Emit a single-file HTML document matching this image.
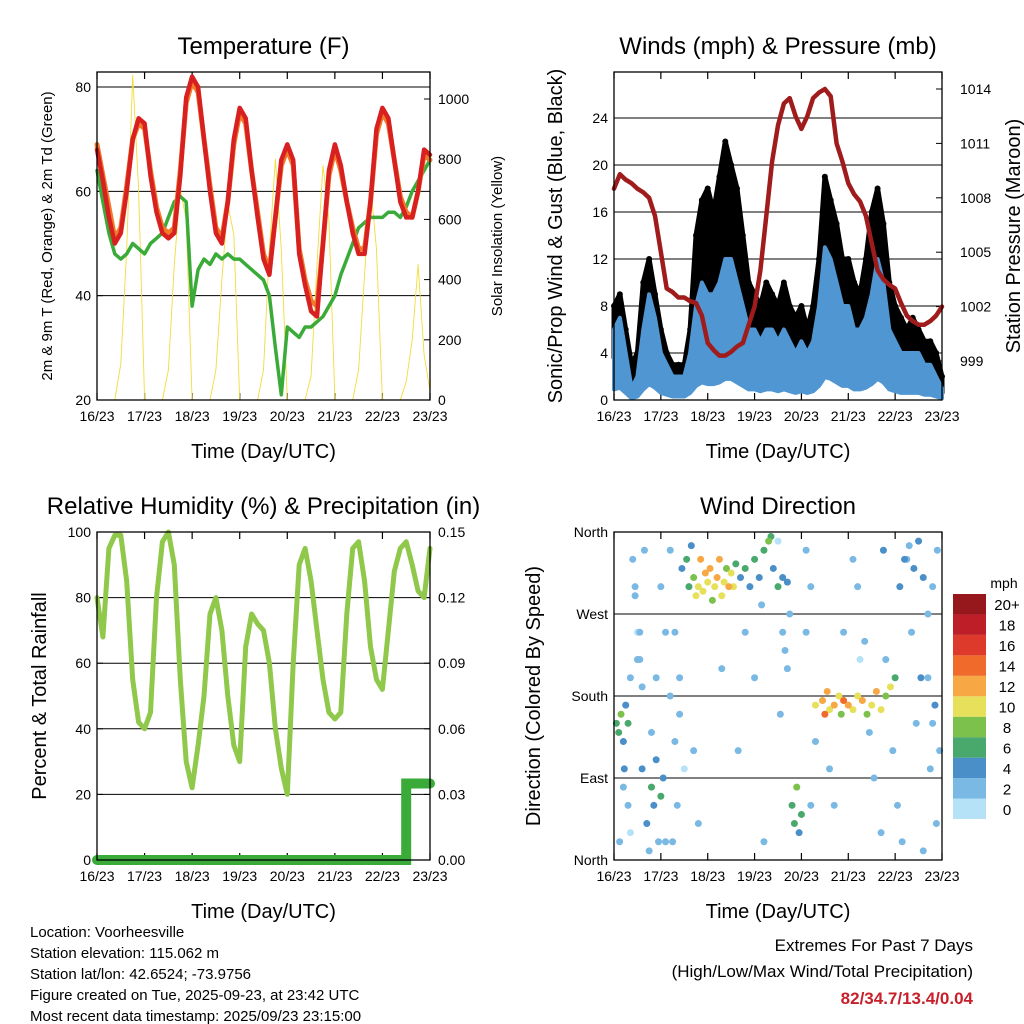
<!DOCTYPE html>
<html><head><meta charset="utf-8"><style>
body{margin:0;background:#fff}
svg{display:block;font-family:"Liberation Sans",sans-serif}
</style></head><body>
<svg id="s" width="1024" height="1024" viewBox="0 0 1024 1024" xmlns="http://www.w3.org/2000/svg"></svg>
<script>
// ===== data (3-hour steps from 16/23 to 23/23) =====
const dayLabels=["16/23","17/23","18/23","19/23","20/23","21/23","22/23","23/23"];
const temp2m=[68,62,55,50,52,60,70,74, 73,63,56,52,51,52,63,78, 82,80,70,60,52,50,58,70, 76,74,64,55,47,44,55,66, 69,66,48,42,37,36,50,64, 69,65,58,52,48,48,58,72, 76,74,66,58,55,55,60,68, 67];
const temp9m=[69,63,57,51,53,61,70,73, 72,64,57,53,52,53,64,77, 81,79,70,61,53,51,58,69, 75,73,64,56,48,45,55,65, 68,65,49,43,39,38,50,63, 68,64,58,53,49,49,58,71, 75,73,66,59,56,55,60,67, 66];
const dewpoint=[64,58,52,48,47,48,50,49, 48,50,51,52,55,58,59,58, 38,45,47,46,48,47,48,47, 47,46,45,44,43,40,30,21, 34,33,32,34,34,35,36,38, 40,44,47,50,53,54,55,55, 55,56,56,55,57,60,62,64, 66];
const solar=[0,0,0,0,120,500,1080,700, 0,0,0,0,100,450,700,600, 0,0,0,0,100,400,650,550, 0,0,0,0,100,500,800,500, 0,0,0,0,80,450,780,600, 0,0,0,0,100,420,720,500, 0,0,0,0,60,200,450,150, 30];
const gust=[8,9,6,3,4,10,12,9, 6,4,3,3,3,6,14,17, 18,16,19,22,20,18,14,10, 9,8,10,9,8,10,8,7, 8,6,8,12,19,17,15,12, 12,10,9,12,16,18,15,10, 8,7,6,7,6,5,5,4, 2];
const sonic=[6,7,4,1,2,6,9,7, 4,3,2,2,2,4,8,10, 9,9,10,12,12,10,8,6, 6,5,6,6,5,6,5,4, 5,4,5,8,13,12,10,8, 8,6,6,7,9,12,10,6, 5,4,4,4,4,3,3,2, 1];
const pressure=[1008.5,1009.3,1009,1008.8,1008.5,1008.3,1008,1007, 1005,1003,1002.8,1002.5,1002.5,1002.3,1002.2,1001.5, 1000,999.6,999.3,999.3,999.5,999.8,1000,1001, 1002,1004,1007,1010,1012,1013.2,1013.5,1012.5, 1011.8,1012.5,1013.5,1013.8,1014,1013.6,1011,1010, 1008.8,1008.2,1007.8,1007,1005.5,1004,1003.5,1003.2, 1003,1002.2,1001.5,1001.2,1001,1001,1001.2,1001.5, 1002];
const rh=[80,68,95,99,99,85,55,42, 40,45,80,97,100,90,55,30, 22,35,50,75,80,70,50,35, 30,65,75,72,70,60,40,28, 20,60,90,95,85,70,55,45, 43,45,75,95,97,85,65,55, 52,70,88,95,97,90,82,80, 95];
const precip=[0,0,0,0,0,0,0,0, 0,0,0,0,0,0,0,0, 0,0,0,0,0,0,0,0, 0,0,0,0,0,0,0,0, 0,0,0,0,0,0,0,0, 0,0,0,0,0,0,0,0, 0,0,0,0,0.035,0.035,0.035,0.035, 0.035];
// wind direction points: time (days), direction (deg), speed (mph)
const wdTime=[0.05,0.1,0.15,0.2,0.25,0.3,0.35,0.45,0.55,0.6,0.7,0.8,0.85,0.9,0.95,1.0,1.05,1.2,1.3,1.45,1.55,1.6,1.65,1.7,1.75,1.8,1.85,1.9,1.95,2.0,2.05,2.1,2.15,2.2,2.25,2.3,2.35,2.4,2.45,2.5,2.55,2.6,2.7,2.8,2.9,3.0,3.1,3.2,3.3,3.35,3.4,3.5,3.6,3.7,3.8,3.85,3.9,3.95,4.0,4.1,4.3,4.45,4.5,4.55,4.6,4.7,4.8,4.85,4.9,5.0,5.1,5.2,5.3,5.4,5.5,5.6,5.7,5.8,5.9,6.0,6.1,6.2,6.3,6.4,6.5,6.6,6.7,6.8,6.9,0.5,1.1,1.4,2.65,3.15,4.2,5.25,6.25,6.75,
 0.4,0.45,0.5,0.55,0.6,0.65,0.3,0.35,0.75,0.8,0.9,1.0,1.1,1.2,1.25,1.3,1.35,1.4,1.5,3.6,3.65,3.7,3.75,3.55,3.5,4.1,4.2,4.3,4.6,4.7,4.9,5.1,5.2,5.35,5.45,5.55,5.7,5.75,5.8,5.95,6.05,6.15,6.35,6.45,6.55,6.7,6.85,6.95,6.88,6.8,6.6,0.2,0.22,0.12,2.3,2.8,3.0,3.2,1.7,1.8];
const wdDir=[150,140,160,130,170,150,200,300,250,100,40,80,60,110,20,70,90,180,250,320,330,300,345,310,290,300,330,295,315,305,320,285,300,310,330,290,305,320,300,315,300,325,310,320,300,330,310,340,350,355,320,300,310,305,60,40,80,30,50,250,170,175,160,185,165,170,180,160,175,170,165,180,175,160,170,185,165,180,190,200,300,330,345,320,350,310,200,150,340,220,20,160,120,280,60,220,330,100,
 330,290,250,220,190,340,60,30,10,140,200,300,250,340,20,130,60,200,100,250,230,210,270,160,350,340,300,130,100,60,250,330,300,240,140,90,30,340,220,120,60,20,250,150,200,270,170,120,40,300,10,80,100,20,210,250,200,20,120,40];
const wdSpeed=[6,5,7,4,3,5,2,1,1,3,4,5,4,3,2,5,4,1,1,3,5,6,4,7,10,9,11,10,12,9,11,8,10,12,11,9,10,8,11,10,9,6,4,5,4,5,3,6,7,6,4,5,4,3,6,5,7,4,5,1,10,12,13,11,9,12,10,8,13,11,9,10,12,8,10,11,9,7,10,5,3,4,2,4,3,4,2,1,2,1,1,1,1,1,1,0,1,1,
 1,1,0,1,2,1,1,0,1,2,1,2,1,2,1,1,2,1,0,1,2,1,2,1,0,2,1,1,1,1,1,1,2,1,2,1,2,3,1,1,2,1,2,1,3,2,4,2,1,1,2,2,4,2,1,1,2,1,1,2];
const speedColors=["#b5e2f6","#7ab9e3","#4a8fc8","#49a86c","#7cc14c","#e6e05a","#f7a743","#f06a2b","#de3a2c","#be1e27","#97181c"];
const cbLabels=["0","2","4","6","8","10","12","14","16","18","20+"];

const NS="http://www.w3.org/2000/svg";
const S=document.getElementById("s");
function mk(tag,at,parent){const e=document.createElementNS(NS,tag);for(const k in at)e.setAttribute(k,at[k]);(parent||S).appendChild(e);return e;}
function txt(x,y,s,size,anchor,extra){const e=mk("text",Object.assign({x:x,y:y,"font-size":size,"text-anchor":anchor||"middle",fill:"#000"},extra||{}));e.textContent=s;return e;}
function tIdx(i){return i*0.125;}

function panel(L,R,T,B,name,title,xtitle){
  const g=mk("g",{});
  
  
  const t=txt((L+R)/2,T-18,title,24,"middle");
  
  
  const xt=txt((L+R)/2,B+58,xtitle,20,"middle");
  
  
  dayLabels.forEach((d,i)=>{
    const x=L+i/7*(R-L);
    mk("line",{x1:x,x2:x,y1:B,y2:B-7,stroke:"#000","stroke-width":1.2});
    mk("line",{x1:x,x2:x,y1:T,y2:T+7,stroke:"#000","stroke-width":1.2});
    const l=txt(x,B+21,d,14,"middle");
    
    
  });
  return g;
}
function frame(L,R,T,B){mk("rect",{x:L,y:T,width:R-L,height:B-T,fill:"none",stroke:"#000","stroke-width":1.3});}
function grid(L,R,y){mk("line",{x1:L,x2:R,y1:y,y2:y,stroke:"#000","stroke-width":1});}
function leftTick(L,y,s){mk("line",{x1:L,x2:L+6,y1:y,y2:y,stroke:"#000"});const e=txt(L-6,y+5,s,14,"end");}
function rightTick(R,y,s,off){mk("line",{x1:R,x2:R-6,y1:y,y2:y,stroke:"#000"});const e=txt(R+(off||8),y+5,s,14,"start");}
function vtitle(x,y,s,size){const e=txt(x,y,s,size,"middle",{transform:`rotate(-90 ${x} ${y})`});return e;}
function poly(arr,xf,yf,color,w,name){
  const p=arr.map((v,i)=>xf(tIdx(i)).toFixed(1)+","+yf(v).toFixed(1)).join(" ");
  const e=mk("polyline",{points:p,fill:"none",stroke:color,"stroke-width":w,"stroke-linejoin":"round","stroke-linecap":"round"});
  
  
  return e;
}

// ===== Panel 1: Temperature =====
(function(){
  const L=97,R=430,T=72,B=400;
  panel(L,R,T,B,"temperature-panel","Temperature (F)","Time (Day/UTC)");
  const xf=t=>L+t/7*(R-L), yf=v=>B-(v-20)/60*(B-87), ys=v=>B-v/1000*(B-99);
  [40,60,80].forEach(v=>grid(L,R,yf(v)));
  [20,40,60,80].forEach(v=>leftTick(L,yf(v),v));
  [0,200,400,600,800,1000].forEach(v=>rightTick(R,ys(v),v));
  poly(solar,xf,ys,"#f2dc3c",0.9,"solar-line");
  poly(dewpoint,xf,yf,"#3aab38",3.5,"dewpoint-line");
  poly(temp9m,xf,yf,"#f07a2a",5,"temp-9m-line");
  poly(temp2m,xf,yf,"#d92020",4.5,"temp-2m-line");
  frame(L,R,T,B);
  vtitle(52,236,"2m & 9m T (Red, Orange) & 2m Td (Green)",15);
  vtitle(502,236,"Solar Insolation (Yellow)",15);
})();

// ===== Panel 2: Winds & Pressure =====
(function(){
  const L=614,R=942,T=72,B=400;
  panel(L,R,T,B,"winds-panel","Winds (mph) & Pressure (mb)","Time (Day/UTC)");
  const xf=t=>L+t/7*(R-L), yf=v=>B-v/24*(B-118), yp=v=>361-(v-999)/15*(361-89);
  [4,8,12,16,20,24].forEach(v=>grid(L,R,yf(v)));
  [0,4,8,12,16,20,24].forEach(v=>leftTick(L,yf(v),v));
  [999,1002,1005,1008,1011,1014].forEach(v=>rightTick(R,yp(v),v,18));
  const top=gust.map((v,i)=>xf(tIdx(i)).toFixed(1)+","+yf(v).toFixed(1));
  const bot=sonic.map((v,i)=>xf(tIdx(i)).toFixed(1)+","+yf(v*0.6).toFixed(1)).reverse();
  const gb=mk("polygon",{points:top.concat(bot).join(" "),fill:"#000",stroke:"#000","stroke-width":5,"stroke-linejoin":"round"});
  
  
  gust.forEach((v,i)=>{const c=mk("circle",{cx:xf(tIdx(i)),cy:yf(v),r:3,fill:"#000"});
    
    });
  const st=sonic.map((v,i)=>xf(tIdx(i)).toFixed(1)+","+yf(v).toFixed(1));
  const sb=sonic.map((v,i)=>xf(tIdx(i)).toFixed(1)+","+yf(v*0.15).toFixed(1)).reverse();
  const sp=mk("polygon",{points:st.concat(sb).join(" "),fill:"#4f96d2",stroke:"#4f96d2","stroke-width":4,"stroke-linejoin":"round"});
  
  
  poly(pressure,xf,yp,"#a01c1c",4.5,"pressure-line");
  frame(L,R,T,B);
  vtitle(562,236,"Sonic/Prop Wind & Gust (Blue, Black)",20);
  vtitle(1020,236,"Station Pressure (Maroon)",20);
})();

// ===== Panel 3: RH & Precip =====
(function(){
  const L=97,R=430,T=532,B=860;
  panel(L,R,T,B,"humidity-panel","Relative Humidity (%) & Precipitation (in)","Time (Day/UTC)");
  const xf=t=>L+t/7*(R-L), yf=v=>B-v/100*(B-T), yp=v=>B-v/0.15*(B-T);
  [20,40,60,80].forEach(v=>grid(L,R,yf(v)));
  [0,20,40,60,80,100].forEach(v=>leftTick(L,yf(v),v));
  ["0.00","0.03","0.06","0.09","0.12","0.15"].forEach(v=>rightTick(R,yp(+v),v));
  poly(rh,xf,yf,"#8fc84a",5,"rh-line");
  const pp=[];precip.forEach((v,i)=>{if(i>0&&v!==precip[i-1])pp.push(xf(tIdx(i)).toFixed(1)+","+yp(precip[i-1]).toFixed(1));pp.push(xf(tIdx(i)).toFixed(1)+","+yp(v).toFixed(1));});
  const pl=mk("polyline",{points:pp.join(" "),fill:"none",stroke:"#3aab38","stroke-width":10,"stroke-linecap":"round"});
  
  
  frame(L,R,T,B);
  vtitle(46,696,"Percent & Total Rainfall",20);
})();

// ===== Panel 4: Wind Direction =====
(function(){
  const L=614,R=942,T=532,B=860;
  panel(L,R,T,B,"wind-direction-panel","Wind Direction","Time (Day/UTC)");
  const xf=t=>L+t/7*(R-L), yf=d=>B-d/360*(B-T);
  [90,180,270].forEach(v=>grid(L,R,yf(v)));
  [["North",0],["East",90],["South",180],["West",270],["North",360]].forEach(([s,v])=>leftTick(L,yf(v),s));
  const order=wdTime.map((t,i)=>i).sort((a,b)=>wdSpeed[a]-wdSpeed[b]);
  order.forEach(i=>{
    const ci=Math.min(10,Math.max(0,Math.round(wdSpeed[i]/2)));
    const c=mk("circle",{cx:xf(wdTime[i]),cy:yf(wdDir[i]),r:3.5,fill:speedColors[ci]});
    
    
  });
  frame(L,R,T,B);
  vtitle(540,696,"Direction (Colored By Speed)",20);
  const u=txt(1004,588,"mph",14,"middle");
  
  
  const h=(819-594)/11;
  speedColors.forEach((c,i)=>{
    const y=819-(i+1)*h;
    const r=mk("rect",{x:953,y:y,width:33,height:h,fill:c});
    
    
    const l=txt(1007,y+h/2+6,cbLabels[i],15,"middle");
    
    
  });
})();

// ===== footer text =====
const info=["Location: Voorheesville","Station elevation: 115.062 m","Station lat/lon: 42.6524; -73.9756","Figure created on Tue, 2025-09-23, at 23:42 UTC","Most recent data timestamp: 2025/09/23 23:15:00"];
info.forEach((s,i)=>{const e=txt(30,937+i*21,s,15,"start");
  
  });
const e1=txt(973,951,"Extremes For Past 7 Days",17,"end");


const e2=txt(973,977,"(High/Low/Max Wind/Total Precipitation)",17,"end");


const e3=txt(973,1004,"82/34.7/13.4/0.04",17,"end",{fill:"#c8202a","font-weight":"bold"});


</script>
</body></html>
